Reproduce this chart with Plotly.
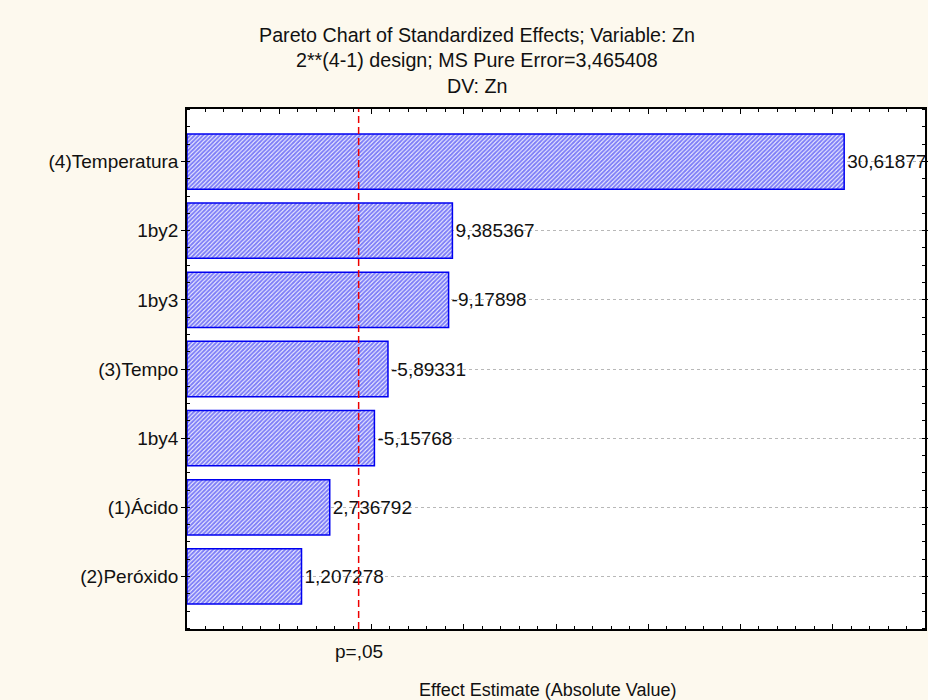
import plotly.graph_objects as go

factors = ["(4)Temperatura", "1by2", "1by3", "(3)Tempo", "1by4", "(1)Ácido", "(2)Peróxido"]
effects = [30.61877, 9.385367, -9.17898, -5.89331, -5.15768, 2.736792, 1.207278]
effect_labels = ["30,61877", "9,385367", "-9,17898", "-5,89331", "-5,15768", "2,736792", "1,207278"]
p_crit = 4.303  # t(2; 0,05)
x_range = [-5, 35]

title_lines = [
    "Pareto Chart of Standardized Effects; Variable: Zn",
    "2**(4-1) design; MS Pure Error=3,465408",
    "DV: Zn",
]

FONT = "Liberation Sans, Arial, sans-serif"
BLUE = "#0000f0"

positions = list(range(len(factors)))
abs_effects = [abs(e) for e in effects]

fig = go.Figure()

# Barres partant du bord gauche de l'axe (comme STATISTICA)
fig.add_trace(go.Bar(
    y=positions,
    x=[a - x_range[0] for a in abs_effects],
    base=x_range[0],
    orientation="h",
    width=0.8,
    marker=dict(
        color="white",
        line=dict(color=BLUE, width=1.5),
        pattern=dict(shape="/", fgcolor=BLUE, bgcolor="white", size=3, solidity=0.7),
    ),
    text=effect_labels,
    textposition="outside",
    constraintext="none",
    cliponaxis=True,
    textfont=dict(family=FONT, size=19, color="#111111"),
    hoverinfo="skip",
    showlegend=False,
))

# Ligne de significativité p=,05
fig.add_shape(type="line", xref="x", yref="paper", x0=p_crit, x1=p_crit, y0=0, y1=1,
              line=dict(color="#ee0000", width=1.5, dash="7px,4px"))
fig.add_annotation(x=p_crit, xref="x", y=-0.044, yref="paper", text="p=,05",
                   showarrow=False, yanchor="middle",
                   font=dict(family=FONT, size=19, color="#111111"))
fig.add_annotation(x=0.488, xref="paper", y=-0.117, yref="paper",
                   text="Effect Estimate (Absolute Value)", showarrow=False, yanchor="middle",
                   font=dict(family=FONT, size=18, color="#111111"))

for line, ypos in zip(title_lines, [1.142, 1.094, 1.045]):
    fig.add_annotation(x=0.393, xref="paper", y=ypos, yref="paper", text=line,
                       showarrow=False, yanchor="middle",
                       font=dict(family=FONT, size=19.7, color="#111111"))

fig.update_layout(
    width=928, height=700,
    paper_bgcolor="#fdf9ee",
    plot_bgcolor="white",
    margin=dict(l=187, r=3, t=109, b=71, autoexpand=False),
    font=dict(family=FONT, size=19, color="#111111"),
    bargap=0.2,
)
fig.update_xaxes(
    range=x_range, showgrid=False, zeroline=False, automargin=False,
    showline=True, linecolor="black", linewidth=1.5, mirror="ticks",
    ticks="inside", tick0=0, dtick=5, ticklen=5, tickcolor="black",
    showticklabels=False,
    minor=dict(ticks="inside", dtick=1, ticklen=3, tickcolor="black", showgrid=False),
)
fig.update_yaxes(
    range=[len(factors) - 0.24, -0.76],
    tickvals=positions, ticktext=factors,
    ticklabelstandoff=-1, automargin=False,
    showgrid=True, gridcolor="#b8b8b8", griddash="dot", gridwidth=1,
    zeroline=False,
    showline=True, linecolor="black", linewidth=1.5, mirror="ticks",
    ticks="outside", ticklen=4, tickcolor="black",
    minor=dict(ticks="inside", dtick=0.25, tick0=0, ticklen=3, tickcolor="black", showgrid=False),
)

# la page par défaut ajoute une marge de 8 px autour du graphique
fig.write_html("out.html", config={"displayModeBar": False},
               post_script="document.body.style.margin='0';")
